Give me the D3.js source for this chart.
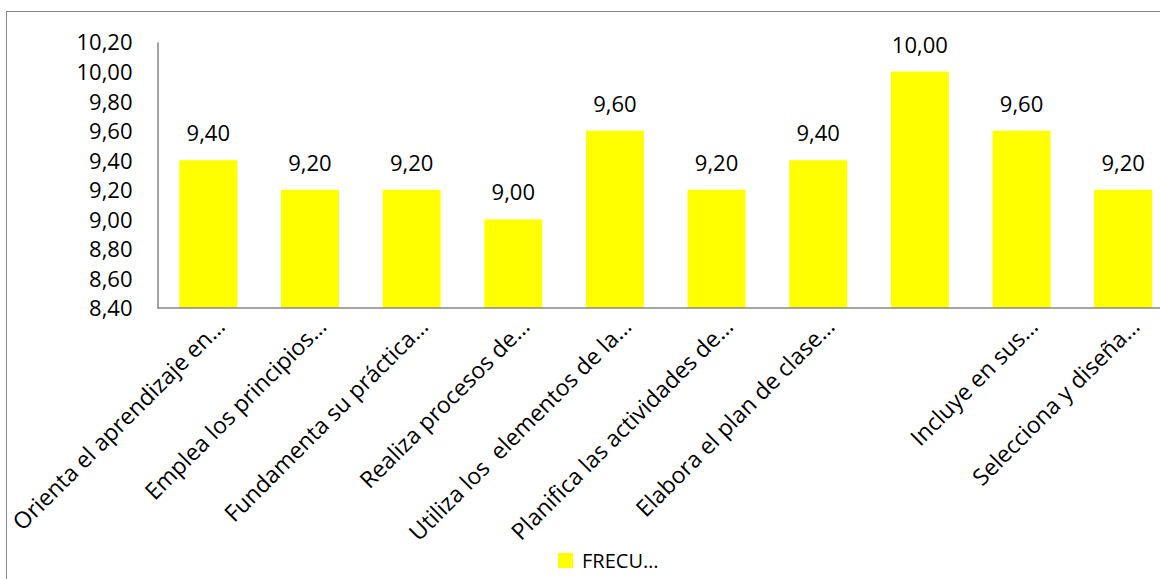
<!DOCTYPE html>
<html>
<head>
<meta charset="utf-8">
<script src="https://cdn.jsdelivr.net/npm/d3@7"></script>
<style>
  body { margin: 0; background: #fff; }
  svg { display: block; font-family: 'Open Sans', sans-serif; }
</style>
</head>
<body>
<svg id="chart" width="1160" height="579"></svg>
<script>
// Category labels (Excel skipped the 8th one, so it stays blank)
const categories = [
  'Orienta el aprendizaje en…',
  'Emplea los principios…',
  'Fundamenta su práctica…',
  'Realiza procesos de…',
  'Utiliza los  elementos de la…',
  'Planifica las actividades de…',
  'Elabora el plan de clase…',
  '',
  'Incluye en sus…',
  'Selecciona y diseña…'
]
const values = [9.40, 9.20, 9.20, 9.00, 9.60, 9.20, 9.40, 10.00, 9.60, 9.20]
const yTicks = [8.40, 8.60, 8.80, 9.00, 9.20, 9.40, 9.60, 9.80, 10.00, 10.20]
const seriesName = 'FRECU…'

const svg = d3.select('#chart')
const fmt = v => d3.format('.2f')(v).replace('.', ',')

// outer chart frame, runs past the right and bottom edges
svg.append('rect')
  .attr('x', 6.5)
  .attr('y', 11.5)
  .attr('width', 1300)
  .attr('height', 700)
  .attr('fill', 'none')
  .attr('stroke', '#878787')

const plot = { left: 157.5, right: 1174, top: 42, bottom: 308 }

const x = d3.scaleBand()
  .domain(d3.range(categories.length))
  .range([plot.left, plot.right])
  .paddingInner(0.43)
  .paddingOuter(0.215)

const y = d3.scaleLinear()
  .domain([8.4, 10.2])
  .range([plot.bottom, plot.top])

// bars
svg.append('g')
  .selectAll('rect')
  .data(values)
  .join('rect')
  .attr('x', (d, i) => x(i))
  .attr('y', d => y(d))
  .attr('width', x.bandwidth())
  .attr('height', d => y(8.4) - y(d))
  .attr('fill', '#ffff00')

// value labels above each bar
svg.append('g')
  .selectAll('text')
  .data(values)
  .join('text')
  .attr('x', (d, i) => x(i) + x.bandwidth() / 2)
  .attr('y', d => y(d) - 19)
  .attr('text-anchor', 'middle')
  .attr('font-size', '22px')
  .attr('fill', '#000')
  .text(d => fmt(d))

// y axis
const yAxis = svg.append('g')
  .attr('transform', `translate(${plot.left},0)`)
  .call(d3.axisLeft(y).tickValues(yTicks).tickSize(0).tickPadding(25).tickFormat(fmt))
yAxis.select('.domain').attr('stroke', '#868686').attr('stroke-width', 1.5)
yAxis.selectAll('.tick text')
  .attr('font-size', '22px')
  .attr('font-family', "'Open Sans', sans-serif")
  .attr('fill', '#000')
  .attr('dy', '0.36em')

// x axis line
svg.append('line')
  .attr('x1', plot.left)
  .attr('x2', plot.right)
  .attr('y1', plot.bottom)
  .attr('y2', plot.bottom)
  .attr('stroke', '#868686')
  .attr('stroke-width', 1.5)

// rotated category labels
svg.append('g')
  .selectAll('text')
  .data(categories)
  .join('text')
  .attr('transform', (d, i) => `translate(${x(i) + x.bandwidth() / 2 + 18},328) rotate(-45)`)
  .attr('text-anchor', 'end')
  .attr('font-size', '23px')
  .attr('fill', '#000')
  .style('white-space', 'pre')
  .text(d => d)

// legend
const legend = svg.append('g').attr('transform', 'translate(558,553)')
legend.append('rect')
  .attr('width', 15)
  .attr('height', 15)
  .attr('fill', '#ffff00')
legend.append('text')
  .attr('x', 24)
  .attr('y', 15)
  .attr('font-size', '20px')
  .attr('fill', '#000')
  .text(seriesName)
</script>
</body>
</html>
